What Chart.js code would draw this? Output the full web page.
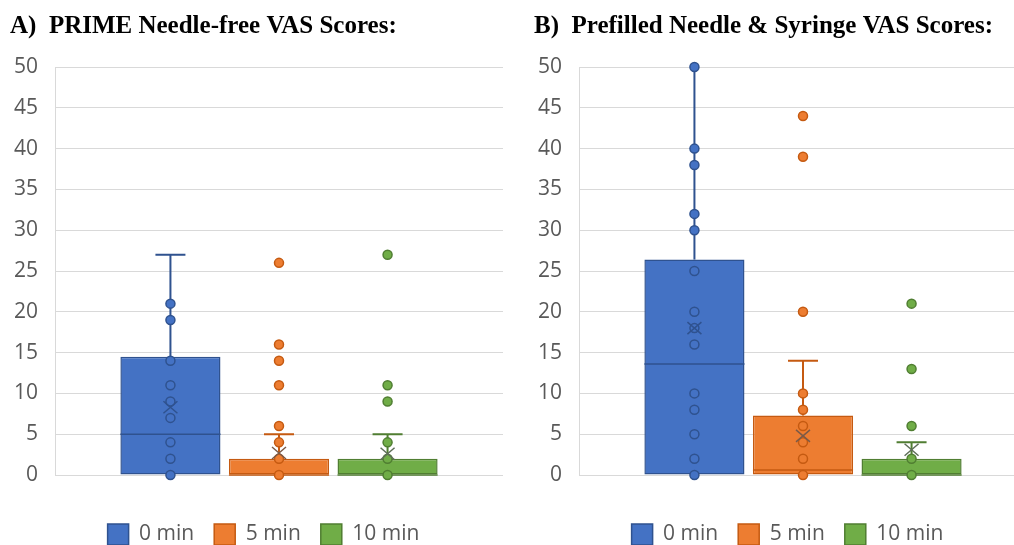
<!DOCTYPE html>
<html><head><meta charset="utf-8">
<script src="https://cdn.jsdelivr.net/npm/chart.js@4/dist/chart.umd.min.js"></script>
<style>
html,body{margin:0;padding:0;background:#fff;overflow:hidden;width:1014px;height:545px;position:relative;}
.panel{position:absolute;top:0;width:507px;height:555px;}
#pa{left:0}
#pb{left:524px}
</style></head><body>
<div class="panel" id="pa"><canvas id="ca" width="507" height="555"></canvas></div>
<div class="panel" id="pb"><canvas id="cb" width="507" height="555"></canvas></div>
<script>
// ---------- data ----------
const seriesNames = ['0 min', '5 min', '10 min'];
const yTickMin = 0, yTickMax = 50, yTickStep = 5;

// Panel A: PRIME Needle-free
const aTitle = 'A)  PRIME Needle-free VAS Scores:';
const aQ1 = [0, 0, 0];
const aQ3 = [14.5, 2, 2];
const aMedian = [5, 0, 0];
const aWhiskerHigh = [27, 5, 5];
const aMean = [8.3, 2.7, 2.6];
const aPoints0 = [0, 2, 4, 7, 9, 11, 14, 19, 21];
const aPoints5 = [0, 2, 4, 6, 11, 14, 16, 26];
const aPoints10 = [0, 2, 4, 9, 11, 27];

// Panel B: Prefilled Needle & Syringe
const bTitle = 'B)  Prefilled Needle & Syringe VAS Scores:';
const bQ1 = [0, 0, 0];
const bQ3 = [26.4, 7.3, 2];
const bMedian = [13.6, 0.6, 0];
const bWhiskerHigh = [50, 14, 4];
const bMean = [18, 4.8, 3.1];
const bPoints0 = [0, 2, 5, 8, 10, 16, 18, 20, 25, 30, 32, 38, 40, 50];
const bPoints5 = [0, 2, 4, 6, 8, 10, 20, 39, 44];
const bPoints10 = [0, 2, 6, 13, 21];

// ---------- styles ----------
const fillColors = ['#4472C4', '#ED7D31', '#70AD47'];
const borderColors = ['#2F528F', '#C55A11', '#507E32'];
const meanColors = ['#2F528F', '#7A5A48', '#5E6E58'];

const legendShift = {
  id: 'legendShift',
  afterLayout(chart) {
    const l = chart.legend;
    if (l) { l.left += 7; l.right += 7; }
  }
};

const boxPlugin = {
  id: 'boxExtras',
  afterDatasetsDraw(chart) {
    const ex = chart.options.plugins.boxExtras;
    const y = chart.scales.y;
    const ctx = chart.ctx;
    ctx.save();
    ex.q3.forEach((q3, i) => {
      const bar = chart.getDatasetMeta(i).data[0];
      const x = bar.x, hw = bar.width / 2;
      const col = borderColors[i];
      // median
      ctx.strokeStyle = col; ctx.lineWidth = 1.5;
      ctx.beginPath();
      ctx.moveTo(x - hw, y.getPixelForValue(ex.median[i]));
      ctx.lineTo(x + hw, y.getPixelForValue(ex.median[i]));
      ctx.stroke();
      // whisker
      const yTop = y.getPixelForValue(ex.whiskerHigh[i]);
      ctx.lineWidth = 2;
      ctx.beginPath();
      ctx.moveTo(x, y.getPixelForValue(q3));
      ctx.lineTo(x, yTop);
      if (ex.whiskerHigh[i] < y.max) {
        ctx.moveTo(x - 15, yTop);
        ctx.lineTo(x + 15, yTop);
      }
      ctx.stroke();
      // points
      ex.points[i].forEach(v => {
        const py = y.getPixelForValue(v);
        ctx.beginPath();
        ctx.arc(x, py, 4.5, 0, Math.PI * 2);
        ctx.fillStyle = fillColors[i];
        ctx.fill();
        ctx.lineWidth = 1.5;
        ctx.strokeStyle = col;
        ctx.stroke();
      });
      // mean X
      const my = y.getPixelForValue(ex.mean[i]);
      ctx.strokeStyle = meanColors[i];
      ctx.lineWidth = 1.5;
      ctx.beginPath();
      ctx.moveTo(x - 7, my - 6); ctx.lineTo(x + 7, my + 6);
      ctx.moveTo(x + 7, my - 6); ctx.lineTo(x - 7, my + 6);
      ctx.stroke();
    });
    ctx.restore();
  }
};

function makeChart(id, title, q1, q3, median, whiskerHigh, mean, points) {
  const datasets = seriesNames.map((name, i) => ({
    label: name,
    data: [[q1[i], q3[i]]],
    backgroundColor: fillColors[i],
    borderColor: borderColors[i],
    borderWidth: 1.5,
    borderSkipped: false,
    categoryPercentage: 0.727,
    barPercentage: 0.922
  }));
  return new Chart(document.getElementById(id), {
    type: 'bar',
    data: { labels: [''], datasets },
    plugins: [boxPlugin, legendShift],
    options: {
      responsive: false,
      animation: false,
      devicePixelRatio: 1,
      layout: { padding: { left: 10, right: 4, top: 0, bottom: 0 } },
      plugins: {
        tooltip: { enabled: false },
        title: {
          display: true, text: title, align: 'start', color: '#000',
          font: { family: 'Liberation Serif', size: 25, weight: 'bold' },
          padding: { top: 12, bottom: 25 }
        },
        legend: {
          position: 'bottom',
          labels: {
            boxWidth: 21, boxHeight: 21, padding: 20, color: '#595959',
            font: { family: 'Open Sans', size: 21 }
          }
        },
        boxExtras: { q3, median, whiskerHigh, mean, points }
      },
      scales: {
        x: {
          grid: { display: false }, border: { display: false },
          ticks: { display: false },
          afterFit(s) { s.height = 29; }
        },
        y: {
          min: yTickMin, max: yTickMax,
          ticks: { stepSize: yTickStep, color: '#595959', padding: 17,
                   font: { family: 'Open Sans', size: 21 } },
          grid: { color: '#d9d9d9', drawTicks: false },
          border: { color: '#d9d9d9' },
          afterFit(s) { s.width = 45; }
        }
      }
    }
  });
}

makeChart('ca', aTitle, aQ1, aQ3, aMedian, aWhiskerHigh, aMean, [aPoints0, aPoints5, aPoints10]);
makeChart('cb', bTitle, bQ1, bQ3, bMedian, bWhiskerHigh, bMean, [bPoints0, bPoints5, bPoints10]);
</script>
</body></html>
